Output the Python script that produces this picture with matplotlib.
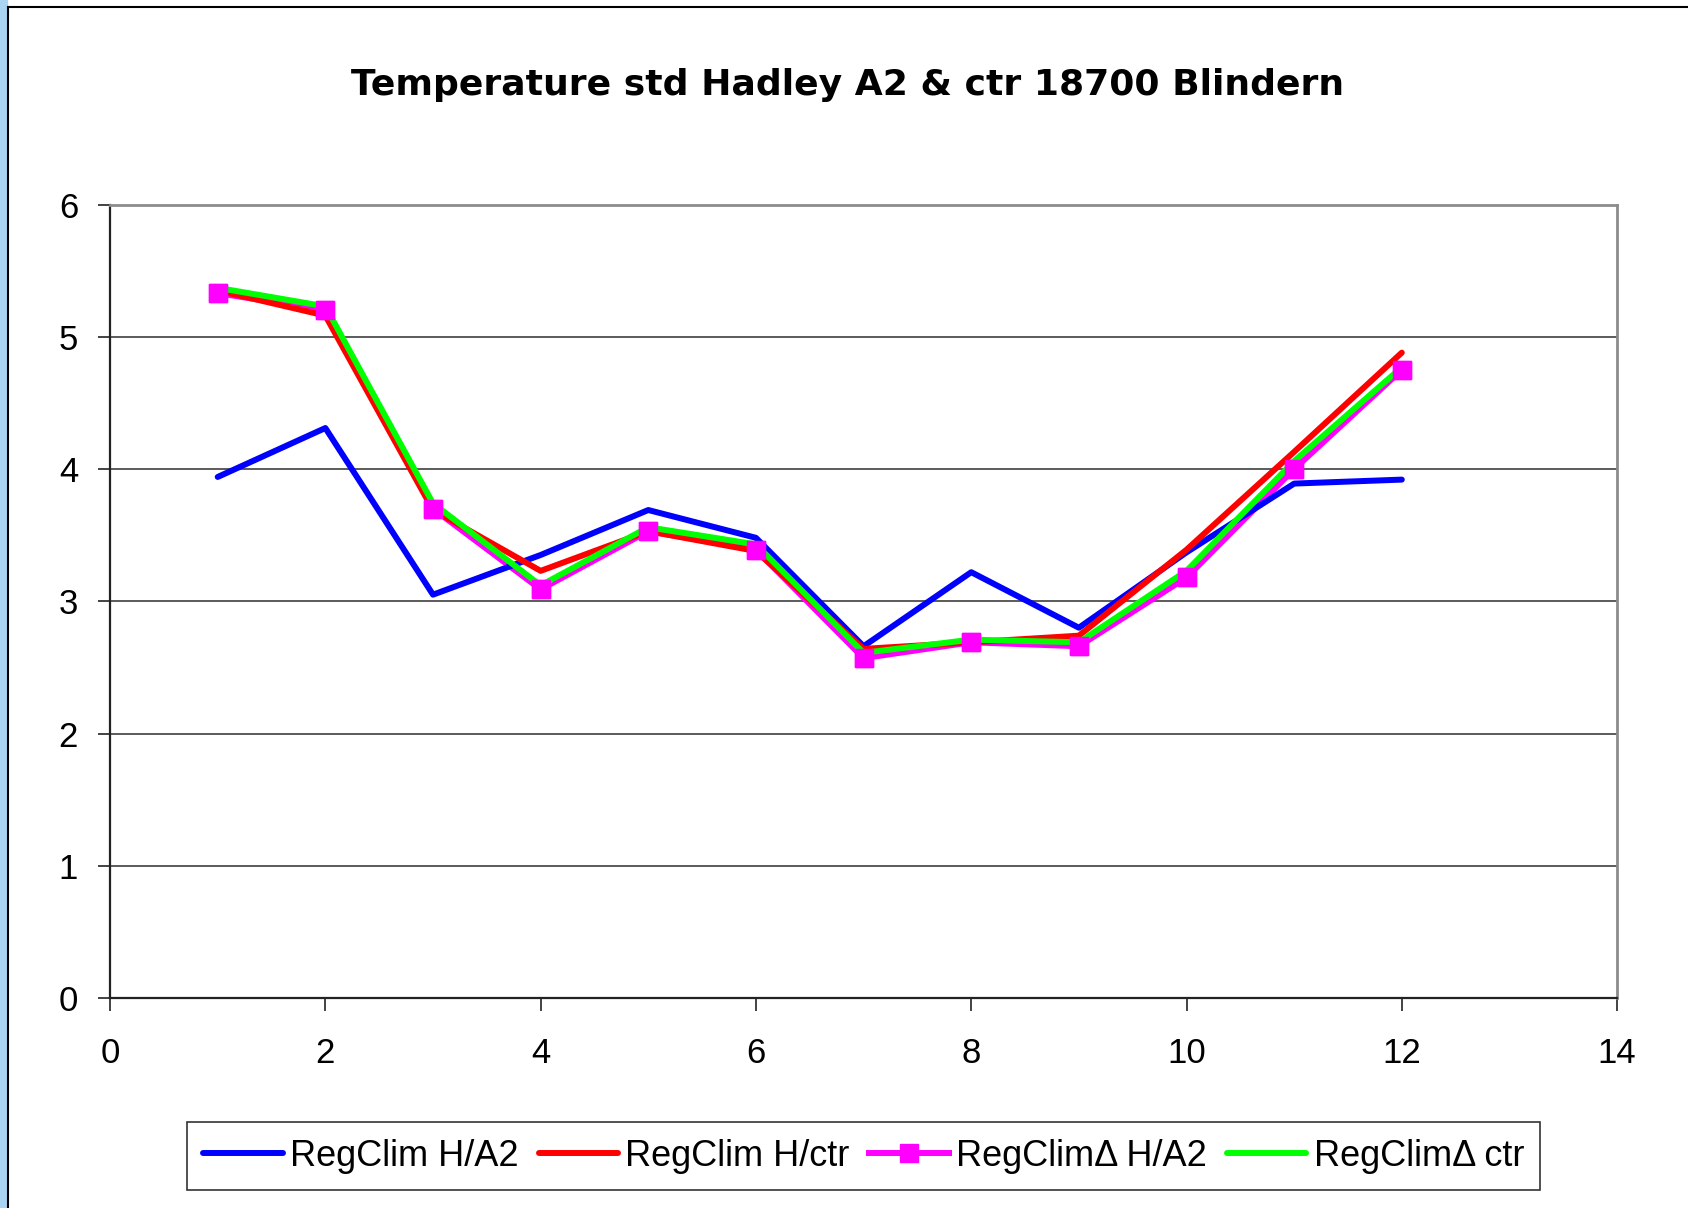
import matplotlib
matplotlib.use("Agg")
import matplotlib.pyplot as plt
from matplotlib.patches import Rectangle
from matplotlib.lines import Line2D

# month index
months = [1, 2, 3, 4, 5, 6, 7, 8, 9, 10, 11, 12]

# temperature std per series
h_a2 = [3.94, 4.31, 3.05, 3.35, 3.69, 3.48, 2.66, 3.22, 2.80, 3.37, 3.89, 3.92]
h_ctr = [5.35, 5.16, 3.69, 3.23, 3.53, 3.38, 2.64, 2.69, 2.74, 3.39, 4.13, 4.88]
d_h_a2 = [5.33, 5.20, 3.70, 3.09, 3.53, 3.39, 2.57, 2.69, 2.66, 3.18, 4.00, 4.75]
d_ctr = [5.37, 5.23, 3.74, 3.12, 3.56, 3.43, 2.61, 2.71, 2.69, 3.23, 4.06, 4.77]

labels = ["RegClim H/A2", "RegClim H/ctr", "RegClim\u0394 H/A2", "RegClim\u0394 ctr"]
title = "Temperature std Hadley A2 & ctr 18700 Blindern"

xticks = [0, 2, 4, 6, 8, 10, 12, 14]
yticks = [0, 1, 2, 3, 4, 5, 6]

fig = plt.figure(figsize=(16.88, 12.08), dpi=100)
ax = fig.add_axes([0.0652, 0.1738, 0.8928, 0.6569])

# blue strip and frame on the left/top edge of the picture
fig.patches.append(Rectangle((0, 0), 0.0042, 1, transform=fig.transFigure,
                             color="#a9d4f2", zorder=0))
fig.add_artist(Line2D([0.0048, 0.0048], [0, 0.9945], transform=fig.transFigure,
                      color="black", lw=1.5))
fig.add_artist(Line2D([0.0048, 1], [0.9945, 0.9945], transform=fig.transFigure,
                      color="black", lw=1.5))

lw = 4.3
l1, = ax.plot(months, h_a2, color="#0000ff", lw=lw, solid_capstyle="round", zorder=3)
l2, = ax.plot(months, h_ctr, color="#ff0000", lw=lw, solid_capstyle="round", zorder=4)
l3, = ax.plot(months, d_h_a2, color="#ff00ff", lw=lw, marker="s", ms=13,
              mec="#ff00ff", zorder=2)
l4, = ax.plot(months, d_ctr, color="#00ff00", lw=lw, solid_capstyle="round", zorder=5)
# markers on top of the green line
ax.plot(months, d_h_a2, ls="none", marker="s", ms=13, color="#ff00ff", zorder=6)

ax.set_xlim(0, 14)
ax.set_ylim(0, 6)
ax.set_xticks(xticks)
ax.set_yticks(yticks)
ax.yaxis.grid(True, color="#404040", lw=1.2)
ax.set_axisbelow(True)

for s in ["left", "bottom"]:
    ax.spines[s].set_color("#222222")
    ax.spines[s].set_linewidth(1.6)
for s in ["top", "right"]:
    ax.spines[s].set_color("#8c8c8c")
    ax.spines[s].set_linewidth(2)

ax.tick_params(axis="y", length=9, width=1.2, color="#222222", pad=14,
               labelsize=25)
ax.tick_params(axis="x", length=9, width=1.2, color="#222222", pad=19,
               labelsize=25)
for t in ax.get_xticklabels() + ax.get_yticklabels():
    t.set_fontfamily("Liberation Sans")

fig.text(0.502, 0.930, title, ha="center", va="center", fontsize=26,
         fontweight="bold", family="DejaVu Sans")

leg = fig.legend([l1, l2, l3, l4], labels, loc="center",
                 bbox_to_anchor=(0.5117, 0.043), ncol=4, frameon=True,
                 fancybox=False, edgecolor="black", handlelength=2.2,
                 handletextpad=0.2, columnspacing=0.55, borderpad=0.45,
                 prop={"family": "Liberation Sans", "size": 26})
leg.get_frame().set_linewidth(1.2)

fig.savefig("out.png", dpi=100)
